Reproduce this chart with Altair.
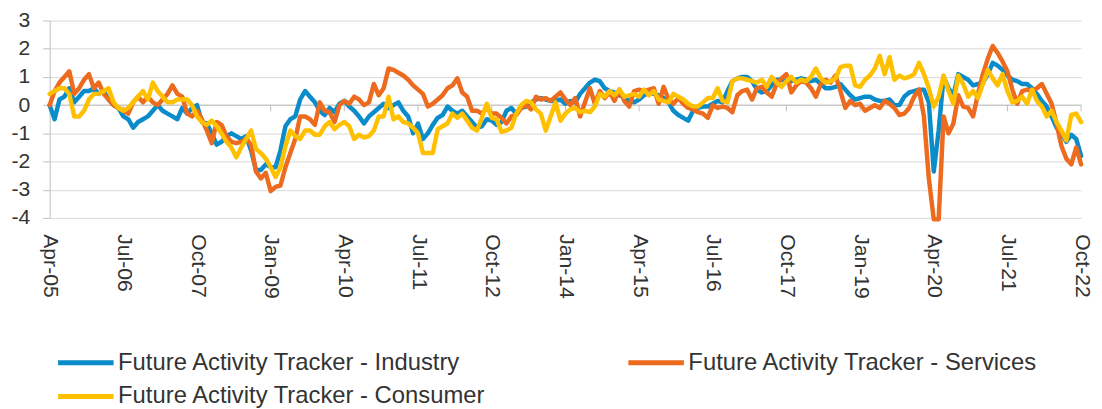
import altair as alt
import pandas as pd

# Monthly readings, Apr-05 (index 0) to Oct-22 (index 210)
industry = [
    0.0, -0.5, 0.2, 0.3, 0.6, 0.1, 0.3, 0.5, 0.5, 0.6, 0.4, 0.5, 0.2, 0.0, -0.1, -0.4, -0.5, -0.8, -0.6, -0.5,
    -0.4, -0.2, 0.0, -0.2, -0.3, -0.4, -0.5, -0.1, -0.3, -0.1, 0.0, -0.6, -0.65, -1.0, -1.4, -1.3, -1.1, -1.0, -1.1, -1.2,
    -1.1, -1.6, -2.3, -2.3, -2.1, -2.2, -2.2, -1.6, -0.75, -0.5, -0.4, 0.2, 0.5, 0.3, 0.1, -0.2, -0.35, -0.1, -0.25, 0.05,
    0.15, -0.05, -0.2, -0.4, -0.65, -0.4, -0.25, -0.1, 0.05, -0.1, 0.0, 0.1, -0.2, -0.4, -1.0, -0.65, -1.2, -1.0, -0.7, -0.45,
    -0.35, -0.05, -0.2, -0.3, -0.2, -0.4, -0.6, -0.8, -0.75, -0.5, -0.55, -0.7, -0.6, -0.2, -0.1, -0.3, -0.1, -0.05, 0.1, 0.2,
    0.25, 0.2, 0.15, 0.15, 0.2, 0.05, 0.15, 0.1, 0.4, 0.6, 0.8, 0.9, 0.85, 0.6, 0.5, 0.45, 0.35, 0.3, 0.15, 0.1,
    0.2, 0.35, 0.45, 0.4, 0.35, 0.25, 0.1, -0.2, -0.35, -0.45, -0.55, -0.2, -0.1, -0.05, -0.05, 0.05, 0.15, 0.1, 0.5, 0.85,
    0.95, 1.0, 1.0, 0.85, 0.55, 0.45, 0.5, 0.7, 0.9, 0.9, 0.85, 0.85, 0.9, 0.95, 0.9, 0.85, 0.9, 0.75, 0.6, 0.6,
    0.65, 0.75, 0.55, 0.35, 0.2, 0.25, 0.3, 0.3, 0.2, 0.15, 0.15, 0.2, 0.0, 0.0, 0.3, 0.45, 0.5, 0.55, 0.55, 0.1,
    -2.35, -0.9, 1.0, 0.6, 0.35, 1.1, 1.0, 0.9, 0.7, 0.75, 0.8, 1.1, 1.5, 1.4, 1.25, 1.05, 0.9, 0.85, 0.75, 0.75,
    0.6, 0.4, 0.15, -0.05, -0.4, -0.8, -1.0, -1.3, -1.05, -1.2, -1.8,
]
services = [
    0.0, 0.5, 0.8, 1.0, 1.2, 0.4, 0.6, 0.9, 1.1, 0.6, 0.8, 0.4, 0.2, 0.0, -0.1, -0.2, -0.3, 0.1, 0.3, 0.1,
    0.3, 0.1, 0.0, 0.2, 0.4, 0.7, 0.4, 0.3, -0.3, -0.4, -0.2, -0.5, -0.9, -1.35, -0.6, -0.7, -1.1, -1.3, -1.35, -1.3,
    -1.2, -1.4, -2.35, -2.6, -2.4, -3.05, -2.9, -2.85, -2.2, -1.7, -1.2, -0.4, -0.4, -0.5, -0.7, 0.1, -0.2, -0.25, -0.6, 0.0,
    0.15, 0.05, 0.3, 0.2, 0.0, 0.1, 0.75, 0.35, 0.6, 1.3, 1.25, 1.15, 1.05, 0.9, 0.7, 0.55, 0.4, -0.05, 0.05, 0.2,
    0.35, 0.6, 0.7, 0.95, 0.45, 0.3, -0.2, -0.2, -0.3, -0.1, -0.3, -0.3, -0.45, -0.65, -0.4, -0.35, -0.1, 0.0, -0.15, 0.3,
    0.2, 0.25, 0.15, 0.3, 0.45, 0.2, 0.0, 0.25, -0.4, 0.1, 0.6, 0.05, 0.5, 0.25, 0.45, 0.15, 0.55, 0.15, -0.05, 0.5,
    0.55, 0.5, 0.55, 0.6, 0.05, 0.65, 0.2, 0.05, 0.25, 0.05, -0.1, -0.15, -0.25, -0.3, -0.45, 0.0, -0.1, -0.05, -0.1, -0.25,
    0.35, 0.5, 0.55, 0.2, 0.6, 0.65, 0.45, 0.3, 0.75, 0.95, 1.1, 0.45, 0.7, 0.85, 0.8, 0.6, 0.3, 0.75, 0.9, 0.8,
    1.05, 0.5, -0.1, 0.15, 0.0, 0.05, -0.2, -0.1, 0.0, -0.1, 0.15, 0.05, -0.1, -0.35, -0.3, -0.1, 0.3, 0.55, -0.4, -2.6,
    -4.05, -4.05, -0.4, -1.0, -0.65, 0.35, -0.05, -0.1, -0.4, 0.4, 1.1, 1.65, 2.1, 1.85, 1.55, 1.2, 0.55, 0.05, 0.5, 0.55,
    0.5, 0.6, 0.75, 0.4, 0.05, -0.65, -1.45, -1.9, -2.1, -1.5, -2.1,
]
consumer = [
    0.4, 0.5, 0.6, 0.6, 0.4, -0.4, -0.4, -0.2, 0.2, 0.4, 0.4, 0.5, 0.6, 0.1, -0.1, -0.2, -0.1, 0.1, 0.3, 0.5,
    0.2, 0.8, 0.5, 0.3, 0.1, 0.1, 0.2, 0.2, 0.2, 0.0, -0.4, -0.6, -0.7, -0.55, -0.75, -1.0, -1.3, -1.5, -1.85, -1.5,
    -1.2, -0.9, -1.55, -1.7, -1.9, -2.2, -2.55, -2.2, -1.45, -0.9, -1.1, -1.2, -0.9, -0.9, -1.05, -1.05, -0.75, -0.6, -0.85, -0.7,
    -0.6, -0.75, -1.2, -1.05, -1.15, -1.1, -0.9, -0.4, -0.4, 0.3, -0.5, -0.4, -0.6, -0.65, -0.8, -1.0, -1.7, -1.7, -1.7, -0.85,
    -0.75, -0.65, -0.3, -0.45, -0.3, -0.55, -0.8, -0.9, -0.45, 0.05, -0.45, -0.5, -0.95, -0.9, -0.8, -0.3, 0.0, 0.15, 0.1, -0.15,
    -0.3, -0.9, -0.4, 0.1, -0.55, -0.3, -0.15, -0.1, -0.25, -0.2, -0.25, -0.05, 0.4, 0.3, 0.5, 0.35, 0.55, 0.3, 0.35, 0.4,
    0.3, 0.55, 0.35, 0.5, 0.2, 0.15, 0.1, 0.4, 0.3, 0.2, 0.05, -0.05, -0.05, 0.1, 0.25, 0.25, 0.6, 0.15, 0.1, 0.85,
    0.95, 0.95, 0.9, 0.85, 0.8, 0.9, 0.65, 1.0, 0.8, 0.65, 0.85, 1.0, 0.8, 0.9, 0.85, 1.0, 1.3, 0.95, 0.8, 0.85,
    0.95, 1.35, 1.4, 1.4, 0.7, 0.65, 0.9, 1.05, 1.3, 1.75, 1.1, 1.7, 0.9, 1.05, 0.95, 1.0, 1.1, 1.5, 1.1, 0.6,
    -0.05, 0.3, 1.05, 0.5, 0.05, 1.05, 0.75, 0.3, 0.5, 0.25, 0.75, 1.25, 0.95, 0.7, 1.1, 0.5, 0.1, 0.15, 0.3, 0.05,
    0.55, 0.15, -0.05, -0.4, -0.2, -0.6, -0.9, -1.25, -0.35, -0.3, -0.6,
]

tick_labels = ["Apr-05", "Jul-06", "Oct-07", "Jan-09", "Apr-10", "Jul-11", "Oct-12", "Jan-14",
               "Apr-15", "Jul-16", "Oct-17", "Jan-19", "Apr-20", "Jul-21", "Oct-22"]
tick_months = [15 * i for i in range(len(tick_labels))]
y_ticks = [-4, -3, -2, -1, 0, 1, 2, 3]

names = ["Future Activity Tracker - Industry", "Future Activity Tracker - Services",
         "Future Activity Tracker - Consumer"]
colors = ["#0A8CCB", "#EC6B1E", "#FFC000"]

rows = []
for name, vals in zip(names, [industry, services, consumer]):
    for i, v in enumerate(vals):
        rows.append({"m": i, "v": v, "s": name})
df = pd.DataFrame(rows)

label_expr = "[" + ",".join("'%s'" % t for t in tick_labels) + "][round(datum.value / 15)]"

x_enc = alt.X("m:Q", scale=alt.Scale(domain=[0, 210], nice=False, zero=False),
              axis=alt.Axis(values=tick_months, labelExpr=label_expr, labelAngle=90, grid=False,
                            domain=False, ticks=False, tickSize=0, labelPadding=16, labelFlush=False,
                            labelOverlap=False, title=None))
y_enc = alt.Y("v:Q", scale=alt.Scale(domain=[-4, 3], nice=False, zero=False),
              axis=alt.Axis(values=y_ticks, labelExpr="datum.value + ''", title=None, grid=True,
                            gridColor="#D9D9D9", domain=True, domainColor="#BFBFBF", ticks=True,
                            tickColor="#BFBFBF", tickSize=7, labelPadding=13, labelOverlap=False,
                            labelFlush=False))

zero_df = pd.DataFrame({"v": [0]})
zero_rule = alt.Chart(zero_df).mark_rule(color="#BFBFBF", strokeWidth=1).encode(y=y_enc)

ticks_df = pd.DataFrame({"m": tick_months, "v": [0] * len(tick_months), "v2": [-0.22] * len(tick_months)})
tick_rules = alt.Chart(ticks_df).mark_rule(color="#BFBFBF", strokeWidth=1).encode(
    x=x_enc, y=y_enc, y2="v2:Q")

color_enc = alt.Color("s:N", scale=alt.Scale(domain=names, range=colors),
                      legend=alt.Legend(title=None, orient="none", legendX=6, legendY=333,
                                        columns=2, direction="horizontal",
                                        symbolType="stroke", symbolSize=3136, symbolStrokeWidth=5,
                                        labelFontSize=24, labelFont="Liberation Sans", labelColor="#333333",
                                        labelLimit=0, labelOffset=2, columnPadding=140, rowPadding=10,
                                        clipHeight=24, padding=0))

line_layers = []
for name in names:
    line_layers.append(
        alt.Chart(df).transform_filter(alt.datum.s == name)
        .mark_line(strokeWidth=4.5, strokeJoin="round", strokeCap="round", clip=False)
        .encode(x=x_enc, y=y_enc, color=color_enc)
    )

chart = alt.layer(zero_rule, tick_rules, *line_layers).properties(
    width=1040, height=199,
    autosize=alt.AutoSizeParams(type="none"),
    padding={"left": 42, "top": 11, "right": 13, "bottom": 191},
).configure_view(stroke=None).configure_axis(
    labelFont="Liberation Sans", labelFontSize=21.3, labelColor="#333333"
)

chart.save("out.html", embed_options={"renderer": "svg", "actions": False})
